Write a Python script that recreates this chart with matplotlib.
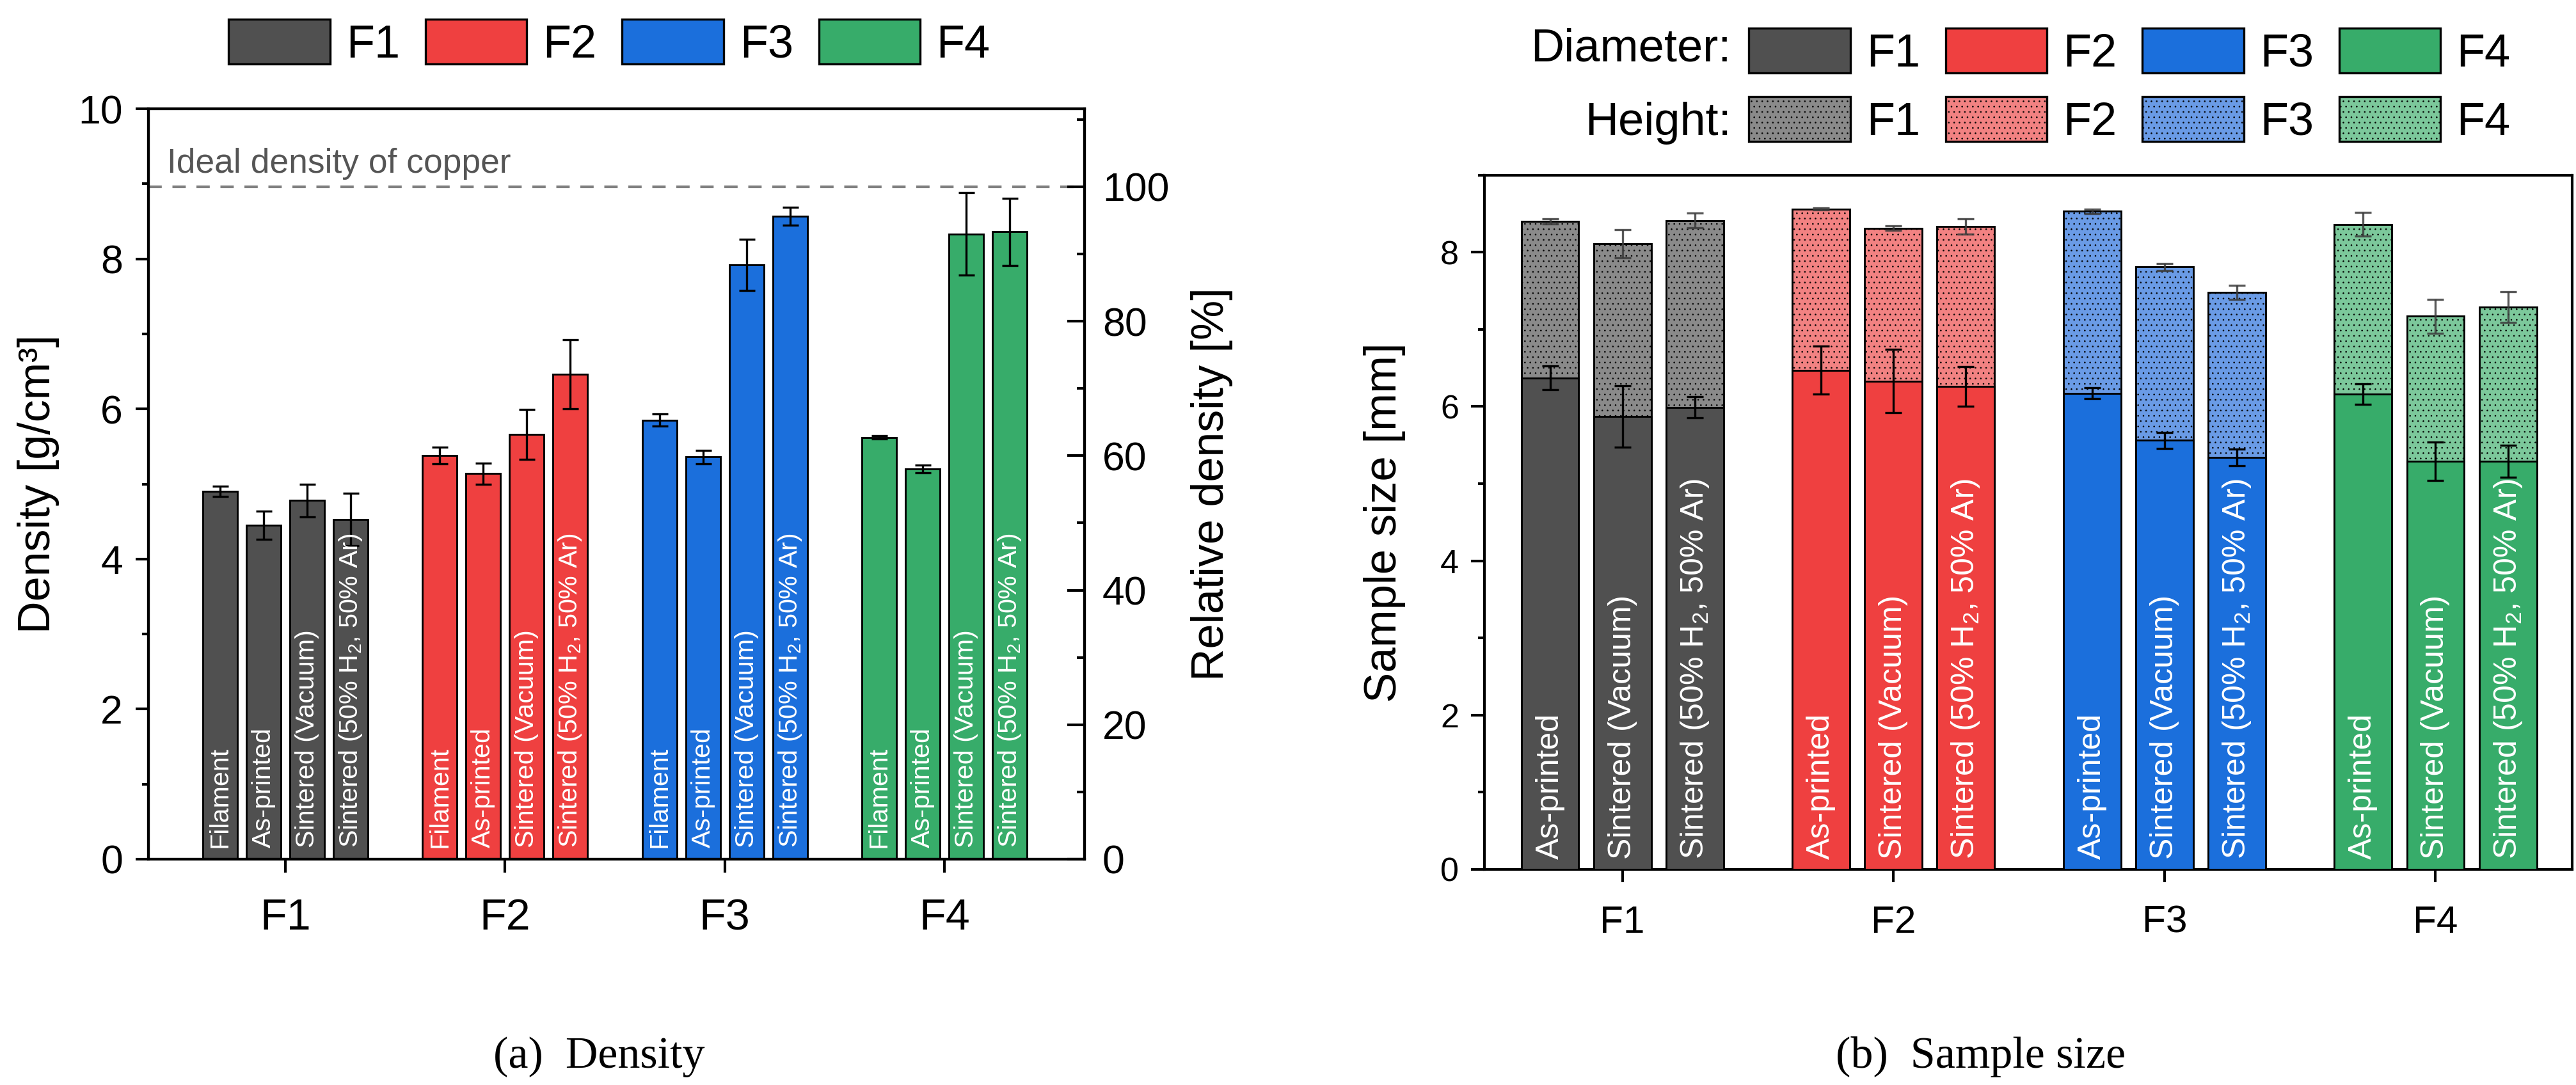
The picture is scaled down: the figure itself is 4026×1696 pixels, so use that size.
import numpy as np
import matplotlib
matplotlib.use("Agg")
import matplotlib.pyplot as plt
from matplotlib.patches import Patch
from matplotlib.ticker import MultipleLocator

plt.rcParams["font.family"] = "Liberation Sans"
plt.rcParams["mathtext.fontset"] = "custom"
plt.rcParams["mathtext.rm"] = "Liberation Sans"
plt.rcParams["mathtext.it"] = "Liberation Sans:italic"
plt.rcParams["hatch.linewidth"] = 0.2
plt.rcParams["axes.linewidth"] = 1.0

# Donnees
groups = ["F1", "F2", "F3", "F4"]
colors = ["#505050", "#ef4040", "#1b6fdc", "#37ac6a"]
light_colors = ["#8a8a8a", "#f28282", "#6a9be6", "#7cc89b"]

density_labels = ["Filament", "As-printed", "Sintered (Vacuum)",
                  "Sintered (50% H$_2$, 50% Ar)"]
size_labels = ["As-printed", "Sintered (Vacuum)", "Sintered (50% H$_2$, 50% Ar)"]

# densite [g/cm3], une ligne par formulation
density = [[4.90, 4.45, 4.78, 4.53],
           [5.38, 5.14, 5.66, 6.46],
           [5.85, 5.36, 7.92, 8.57],
           [5.62, 5.20, 8.33, 8.36]]
density_err = [[0.07, 0.19, 0.22, 0.35],
               [0.11, 0.14, 0.33, 0.46],
               [0.08, 0.09, 0.34, 0.12],
               [0.02, 0.05, 0.55, 0.45]]
copper_density = 8.96

# taille des echantillons [mm]
diameter = [[6.37, 5.87, 5.99],
            [6.47, 6.33, 6.26],
            [6.17, 5.56, 5.34],
            [6.16, 5.29, 5.29]]
diameter_err = [[0.155, 0.40, 0.14],
                [0.31, 0.41, 0.26],
                [0.07, 0.10, 0.11],
                [0.135, 0.245, 0.205]]
height = [[8.40, 8.11, 8.41],
          [8.56, 8.31, 8.33],
          [8.53, 7.81, 7.48],
          [8.36, 7.17, 7.29]]
height_err = [[0.03, 0.18, 0.095],
              [0.01, 0.03, 0.10],
              [0.03, 0.045, 0.09],
              [0.155, 0.22, 0.20]]

W, H = 4026, 1696
fig = plt.figure(figsize=(W / 300, H / 300), dpi=300)

ax1 = fig.add_axes([232 / W, 1 - 1343 / H, 1463 / W, 1173 / H])
ax2 = fig.add_axes([2320 / W, 1 - 1359 / H, 1700 / W, 1085.4 / H])

x = np.arange(1, len(groups) + 1)

# ---- (a) Densite ----
off1 = (np.arange(4) - 1.5) * 0.198
for i in range(len(groups)):
    xs = x[i] + off1
    ax1.bar(xs, density[i], width=0.157, color=colors[i], edgecolor="black",
            linewidth=0.7, zorder=2)
    ax1.errorbar(xs, density[i], yerr=density_err[i], fmt="none", ecolor="black",
                 elinewidth=0.8, capsize=3, capthick=0.8, zorder=3)
    for xx, lab in zip(xs, density_labels):
        ax1.annotate(lab, (xx, 0), xytext=(0, 4.3), textcoords="offset points",
                     rotation=90, ha="center", va="bottom", color="white",
                     fontsize=9.9, zorder=4)

ax1.axhline(copper_density, color="#808080", lw=1.0, ls=(0, (5, 4)), zorder=1)
ax1.text(0.02, 9.15, "Ideal density of copper", transform=ax1.get_yaxis_transform(),
         color="#555555", fontsize=12.8, va="baseline", ha="left")

ax1.set_xlim(0.377, 4.638)
ax1.set_ylim(0, 10)
ax1.set_xticks(x, groups)
ax1.yaxis.set_major_locator(MultipleLocator(2))
ax1.yaxis.set_minor_locator(MultipleLocator(1))
ax1.tick_params(axis="y", which="major", direction="out", length=4.8, width=1.0,
                labelsize=15, pad=4.8)
ax1.tick_params(axis="y", which="minor", direction="out", length=2.4, width=1.0)
ax1.tick_params(axis="x", direction="out", length=5, width=1.0, labelsize=16.4, pad=9.4)
ax1.set_ylabel("Density [g/cm³]", fontsize=16.8, labelpad=7)

ax1r = ax1.twinx()
ax1r.set_ylim(0, 10 / copper_density * 100)
ax1r.yaxis.set_major_locator(MultipleLocator(20))
ax1r.yaxis.set_minor_locator(MultipleLocator(10))
ax1r.tick_params(axis="y", which="major", direction="in", length=6.5, width=1.0,
                 labelsize=15, pad=6.7)
ax1r.tick_params(axis="y", which="minor", direction="in", length=3, width=1.0)
ax1r.set_ylabel("Relative density [%]", fontsize=16.8, labelpad=8)

leg_handles = [Patch(facecolor=c, edgecolor="black", linewidth=0.8) for c in colors]
ax1.legend(leg_handles, groups, ncol=4, loc="center left",
           bbox_to_anchor=(357 / W, 1 - 67.5 / H), bbox_transform=fig.transFigure,
           frameon=False, fontsize=17.3, handlelength=2.2, handleheight=1.12,
           handletextpad=0.35, columnspacing=0.55, borderpad=0, borderaxespad=0)

# ---- (b) Taille des echantillons ----
off2 = (np.arange(3) - 1) * 0.267
for i in range(len(groups)):
    xs = x[i] + off2
    ax2.bar(xs, height[i], width=0.212, color=light_colors[i], edgecolor="black",
            linewidth=0.7, hatch="......", zorder=2)
    ax2.errorbar(xs, height[i], yerr=height_err[i], fmt="none", ecolor="#3c3c3c",
                 alpha=0.85, elinewidth=0.8, capsize=3.2, capthick=0.8, zorder=4)
    ax2.bar(xs, diameter[i], width=0.212, color=colors[i], edgecolor="black",
            linewidth=0.7, zorder=3)
    ax2.errorbar(xs, diameter[i], yerr=diameter_err[i], fmt="none", ecolor="black",
                 elinewidth=0.8, capsize=3.2, capthick=0.8, zorder=4)
    for xx, lab in zip(xs, size_labels):
        ax2.annotate(lab, (xx, 0), xytext=(0, 3.8), textcoords="offset points",
                     rotation=90, ha="center", va="bottom", color="white",
                     fontsize=12, zorder=5)

ax2.set_xlim(0.491, 4.504)
ax2.set_ylim(0, 9)
ax2.set_xticks(x, groups)
ax2.yaxis.set_major_locator(MultipleLocator(2))
ax2.yaxis.set_minor_locator(MultipleLocator(1))
ax2.tick_params(axis="y", which="major", direction="out", length=5, width=1.0,
                labelsize=12.5, pad=4.6)
ax2.tick_params(axis="y", which="minor", direction="out", length=2.5, width=1.0)
ax2.tick_params(axis="x", direction="out", length=4.8, width=1.0, labelsize=14.5, pad=8.6)
ax2.set_ylabel("Sample size [mm]", fontsize=17, labelpad=13)

size_handles = []
for c, lc in zip(colors, light_colors):
    size_handles.append(Patch(facecolor=c, edgecolor="black", linewidth=0.8))
    size_handles.append(Patch(facecolor=lc, edgecolor="black", linewidth=0.8,
                              hatch="......"))
size_names = [g for g in groups for _ in range(2)]
ax2.legend(size_handles, size_names, ncol=4, loc="center left",
           bbox_to_anchor=(2733 / W, 1 - 135 / H), bbox_transform=fig.transFigure,
           frameon=False, fontsize=17.3, handlelength=2.2, handleheight=1.12,
           handletextpad=0.35, columnspacing=0.55, labelspacing=0.45,
           borderpad=0, borderaxespad=0)
fig.text(2706 / W, 1 - 76.5 / H, "Diameter:", ha="right", va="center", fontsize=17.3)
fig.text(2706 / W, 1 - 193 / H, "Height:", ha="right", va="center", fontsize=17.3)

# Legendes des sous-figures
fig.text(936 / W, 1 - 1669 / H, "(a)  Density", ha="center", va="baseline",
         fontsize=16.8, family="Liberation Serif")
fig.text(3096 / W, 1 - 1669 / H, "(b)  Sample size", ha="center", va="baseline",
         fontsize=16.8, family="Liberation Serif")

fig.savefig("out.png", dpi=300)
plt.close(fig)
